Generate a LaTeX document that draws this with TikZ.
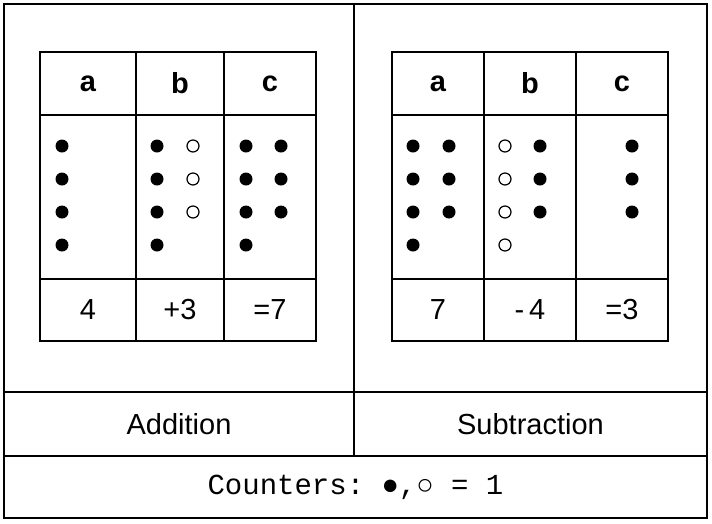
\documentclass[tikz,border=0pt]{standalone}
\usepackage{fontspec}
\setmainfont{Liberation Sans}
\setmonofont{Liberation Mono}
\usetikzlibrary{positioning}
\begin{document}
\begin{tikzpicture}[
  x=1pt, y=-1pt,
  frame/.style={rectangle,draw,line width=2pt,inner sep=0pt,outer sep=0pt,anchor=north west,font=\fontsize{29}{33}\selectfont},
  head/.style={frame,minimum height=63pt,font=\fontsize{29}{33}\selectfont\bfseries},
  body/.style={frame,minimum height=164pt},
  total/.style={frame,minimum height=62pt},
  full/.style={fill=black},
  hollow/.style={draw=black,line width=1.2pt,fill=white}
  ]
  \useasboundingbox (0,0) rectangle (712,523);
  % outer panels
  \node[frame, minimum width=350pt, minimum height=388pt] (addpanel) at (4,4) {};
  \node[frame, minimum width=353pt, minimum height=388pt] (subpanel) at (354,4) {};
  \node[frame, minimum width=350pt, minimum height=64pt] (addname) at (4,392) {Addition};
  \node[frame, minimum width=353pt, minimum height=64pt] (subname) at (354,392) {Subtraction};
  \node[frame, minimum width=703pt, minimum height=62pt, font=\fontsize{29}{33}\selectfont\ttfamily] (legend) at (4,456) {Counters: ●,○ = 1};
  % addition table
  \node[head, minimum width=96pt] (adda) at (40,52) {a};
  \node[head, minimum width=88pt, right=0pt of adda] (addb) {b};
  \node[head, minimum width=92pt, right=0pt of addb] (addc) {c};
  \node[body, minimum width=96pt, below=0pt of adda] (addabody) {};
  \node[body, minimum width=88pt, below=0pt of addb] (addbbody) {};
  \node[body, minimum width=92pt, below=0pt of addc] (addcbody) {};
  \node[total, minimum width=96pt, below=0pt of addabody] (addasum) {4};
  \node[total, minimum width=88pt, below=0pt of addbbody] (addbsum) {+3};
  \node[total, minimum width=92pt, below=0pt of addcbody] (addcsum) {=7};
  % subtraction table
  \node[head, minimum width=92pt] (suba) at (392,52) {a};
  \node[head, minimum width=92pt, right=0pt of suba] (subb) {b};
  \node[head, minimum width=92pt, right=0pt of subb] (subc) {c};
  \node[body, minimum width=92pt, below=0pt of suba] (subabody) {};
  \node[body, minimum width=92pt, below=0pt of subb] (subbbody) {};
  \node[body, minimum width=92pt, below=0pt of subc] (subcbody) {};
  \node[total, minimum width=92pt, below=0pt of subabody] (subasum) {7};
  \node[total, minimum width=92pt, below=0pt of subbbody] (subbsum) {-\,4};
  \node[total, minimum width=92pt, below=0pt of subcbody] (subcsum) {=3};
  % counters
  \foreach \y in {146,179,212,245} {
    \fill[full] (62,\y) circle (6.5);
    \fill[full] (157,\y) circle (6.5);
    \fill[full] (246,\y) circle (6.5);
    \fill[full] (413,\y) circle (6.5);
    \draw[hollow] (505,\y) circle (6);
  }
  \foreach \y in {146,179,212} {
    \draw[hollow] (193,\y) circle (6);
    \fill[full] (281,\y) circle (6.5);
    \fill[full] (449,\y) circle (6.5);
    \fill[full] (540,\y) circle (6.5);
    \fill[full] (632,\y) circle (6.5);
  }
\end{tikzpicture}
\end{document}
